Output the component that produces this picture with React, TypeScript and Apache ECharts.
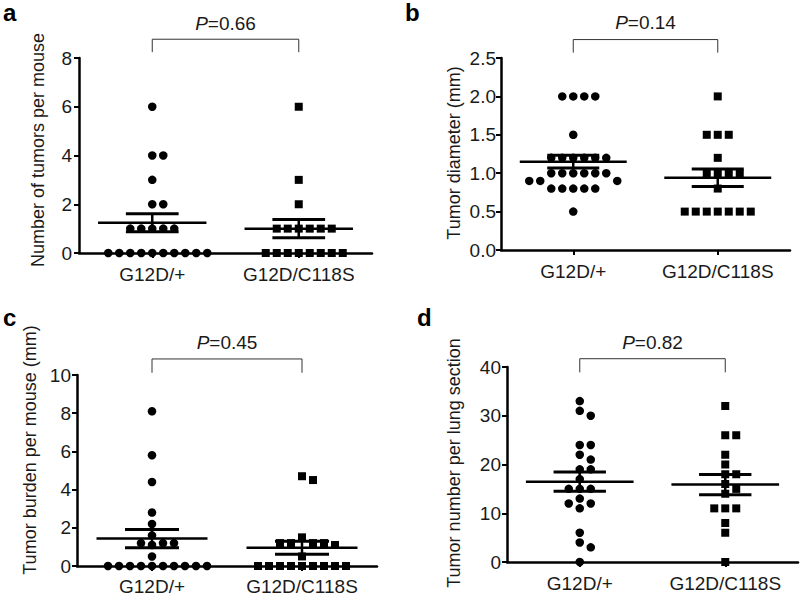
import React, { useEffect, useRef } from "react";
import * as echarts from "echarts";

// ---------- data ----------
const categories = ["G12D/+", "G12D/C118S"];

const tumorsPerMouseWT = [6, 4, 4, 3, 2, 2, 1, 1, 1, 1, 1, 0, 0, 0, 0, 0, 0, 0, 0, 0, 0];
const tumorsPerMouseMut = [6, 3, 2, 1, 1, 1, 1, 1, 1, 0, 0, 0, 0, 0, 0, 0, 0];

const diameterWT = [2, 2, 2, 2, 1.5, 1.2, 1.2, 1.2, 1.2, 1.2, 1.2, 1.0, 1.0, 1.0, 1.0, 1.0, 1.0, 0.9, 0.9, 0.9, 0.8, 0.8, 0.8, 0.8, 0.8, 0.5];
const diameterMut = [2, 1.5, 1.5, 1.5, 1.2, 1.0, 1.0, 1.0, 1.0, 0.8, 0.5, 0.5, 0.5, 0.5, 0.5, 0.5, 0.5];

const burdenWT = [8.1, 5.8, 4.4, 2.8, 2.2, 1.6, 1.2, 1.2, 1.2, 1.1, 0.5, 0, 0, 0, 0, 0, 0, 0, 0, 0, 0];
const burdenMut = [4.7, 4.5, 1.5, 1.2, 1.2, 1.1, 1.2, 1.2, 0.5, 0, 0, 0, 0, 0, 0, 0, 0, 0];

const numberWT = [33, 31, 30, 24, 24, 22, 21, 19, 19, 17, 15, 15, 15, 13, 12, 12, 11, 6, 4, 3, 0];
const numberMut = [32, 26, 26, 22, 20, 18, 18, 16, 15, 14, 11, 11, 11, 8, 6, 0];

const pValues = ["0.66", "0.14", "0.45", "0.82"];
const letters = ["a", "b", "c", "d"];
const yTitles = [
  "Number of tumors per mouse",
  "Tumor diameter (mm)",
  "Tumor burden per mouse (mm)",
  "Tumor number per lung section",
];
const yMax = [8, 2.5, 10, 40];
const yInterval = [2, 0.5, 2, 10];
const yDecimals = [0, 1, 0, 0];
// bracket: [end level, top level, P-label level] in axis units
const bracketLevels = [
  [8.24, 8.77, 9.43],
  [2.57, 2.74, 2.96],
  [10.12, 10.84, 11.68],
  [38.9, 41.7, 45.0],
];

// ---------- layout ----------
const FONT = '"Liberation Sans", Arial, Helvetica, sans-serif';
const INK = "#000";
const TXT = "#1a1a1a";
const FS = 19;
const FS_NAME = 18;
const grids = [
  { left: 79, top: 58, width: 293, height: 195 },
  { left: 501, top: 58, width: 289, height: 192 },
  { left: 77, top: 375, width: 300, height: 191 },
  { left: 507, top: 367, width: 291, height: 195 },
];
// centre of each rotated y-axis title
const yTitlePos = [
  [38, 150],
  [454, 153],
  [30, 450],
  [454, 463],
];
const labelMargins = [7, 5, 6, 6];
const xLabelMargins = [12, 12, 11, 12];
const letterPos = [
  [3, 0],
  [405, 0],
  [3, 305],
  [417, 305],
];

const SLOT_PX = 11;
const DOT_PX = 8.5;

function beeswarm(values: number[], center: number, xPxPerUnit: number, yPxPerUnit: number) {
  const slotU = SLOT_PX / xPxPerUnit;
  const order = values.map((v, i) => ({ v, i })).sort((a, b) => b.v - a.v);
  const placed: { v: number; slot: number }[] = [];
  const out: [number, number][] = [];
  for (const { v } of order) {
    let k = 0;
    for (;;) {
      const slot = k === 0 ? 0 : k % 2 === 1 ? (k + 1) / 2 : -k / 2;
      const clash = placed.some((p) => p.slot === slot && Math.abs(p.v - v) * yPxPerUnit < 9);
      if (!clash) {
        placed.push({ v, slot });
        out.push([center + slot * slotU, v]);
        break;
      }
      k++;
    }
  }
  return out;
}

function meanSem(values: number[]) {
  const n = values.length;
  const m = values.reduce((a, b) => a + b, 0) / n;
  const ss = values.reduce((a, b) => a + (b - m) * (b - m), 0);
  const sd = Math.sqrt(ss / (n - 1));
  return [m, sd / Math.sqrt(n)];
}

const panelData = [
  [tumorsPerMouseWT, tumorsPerMouseMut],
  [diameterWT, diameterMut],
  [burdenWT, burdenMut],
  [numberWT, numberMut],
];

function buildOption() {
  const grid: any[] = [];
  const xAxis: any[] = [];
  const yAxis: any[] = [];
  const series: any[] = [];
  const graphic: any[] = [];

  grids.forEach((g, i) => {
    grid.push({ ...g, containLabel: false, outerBoundsMode: "none" });
    xAxis.push({
      type: "category",
      gridIndex: i,
      data: categories,
      boundaryGap: true,
      axisLine: { show: true, onZero: false, lineStyle: { color: INK, width: 2.5 } },
      axisTick: { show: true, alignWithLabel: true, length: 5, lineStyle: { color: INK, width: 2 } },
      axisLabel: { fontSize: FS, color: TXT, fontFamily: FONT, margin: xLabelMargins[i], interval: 0, hideOverlap: false },
      splitLine: { show: false },
    });
    xAxis.push({ type: "value", gridIndex: i, min: 0.5, max: 2.5, show: false });
    yAxis.push({
      type: "value",
      gridIndex: i,
      min: 0,
      max: yMax[i],
      interval: yInterval[i],
      axisLine: { show: true, lineStyle: { color: INK, width: 2.5 } },
      axisTick: { show: true, length: 5, lineStyle: { color: INK, width: 2 } },
      axisLabel: {
        fontSize: FS,
        color: TXT,
        fontFamily: FONT,
        margin: labelMargins[i],
        formatter: (v: number) => v.toFixed(yDecimals[i]),
      },
      splitLine: { show: false },
    });

    const xPx = g.width / 2;
    const yPx = g.height / yMax[i];
    const [wt, mut] = panelData[i];
    const xi = 2 * i + 1;

    // mean and SEM bars
    const stats = [wt, mut].map((vals, gi) => {
      const [m, s] = meanSem(vals);
      return [gi + 1, m, s];
    });
    series.push({
      type: "custom",
      xAxisIndex: xi,
      yAxisIndex: i,
      data: stats,
      silent: true,
      z: 3,
      renderItem: (params: any, api: any) => {
        const x = api.value(0);
        const m = api.value(1);
        const s = api.value(2);
        const hm = 0.37;
        const hs = 0.18;
        const line = (p: number[], q: number[], w: number) => ({
          type: "line",
          shape: { x1: p[0], y1: p[1], x2: q[0], y2: q[1] },
          style: { stroke: INK, lineWidth: w },
        });
        return {
          type: "group",
          children: [
            line(api.coord([x - hm, m]), api.coord([x + hm, m]), 2.5),
            line(api.coord([x - hs, m + s]), api.coord([x + hs, m + s]), 3),
            line(api.coord([x - hs, m - s]), api.coord([x + hs, m - s]), 3),
            line(api.coord([x, m - s]), api.coord([x, m + s]), 2.5),
          ],
        };
      },
    });

    series.push({
      type: "scatter",
      xAxisIndex: xi,
      yAxisIndex: i,
      symbol: "circle",
      symbolSize: DOT_PX,
      itemStyle: { color: INK, opacity: 1 },
      data: beeswarm(wt, 1, xPx, yPx),
      z: 4,
    });
    series.push({
      type: "scatter",
      xAxisIndex: xi,
      yAxisIndex: i,
      symbol: "rect",
      symbolSize: DOT_PX - 0.5,
      itemStyle: { color: INK, opacity: 1 },
      data: beeswarm(mut, 2, xPx, yPx),
      z: 4,
    });

    // significance bracket
    const [lo, hi, lab] = bracketLevels[i];
    series.push({
      type: "line",
      xAxisIndex: xi,
      yAxisIndex: i,
      clip: false,
      symbol: "none",
      lineStyle: { color: "#333", width: 1 },
      data: [
        [1, lo],
        [1, hi],
        [2, hi],
        [2, lo],
      ],
      z: 2,
    });
    series.push({
      type: "scatter",
      xAxisIndex: xi,
      yAxisIndex: i,
      clip: false,
      symbolSize: 0,
      itemStyle: { opacity: 1 },
      data: [[1.5, lab]],
      label: {
        show: true,
        position: "inside",
        formatter: "{i|P}=" + pValues[i],
        fontSize: FS,
        color: TXT,
        fontFamily: FONT,
        rich: { i: { fontStyle: "italic", fontSize: FS, color: TXT, fontFamily: FONT } },
      },
    });

    graphic.push({
      type: "text",
      x: yTitlePos[i][0],
      y: yTitlePos[i][1],
      rotation: Math.PI / 2,
      style: {
        text: yTitles[i],
        fill: TXT,
        font: `${FS_NAME}px ${FONT}`,
        align: "center",
        verticalAlign: "middle",
      },
    });
    graphic.push({
      type: "text",
      left: letterPos[i][0],
      top: letterPos[i][1],
      style: { text: letters[i], fill: "#000", font: `bold 24px ${FONT}` },
    });
  });

  return {
    animation: false,
    backgroundColor: "#fff",
    grid,
    xAxis,
    yAxis,
    series,
    graphic,
  };
}

export default function App() {
  const ref = useRef<HTMLDivElement>(null);
  useEffect(() => {
    if (!ref.current) return;
    const chart = echarts.init(ref.current, undefined, { renderer: "svg" });
    chart.setOption(buildOption() as any);
    return () => chart.dispose();
  }, []);
  return (
    <div
      ref={ref}
      style={{ position: "fixed", left: 0, top: 0, width: 800, height: 598, background: "#fff" }}
    />
  );
}
